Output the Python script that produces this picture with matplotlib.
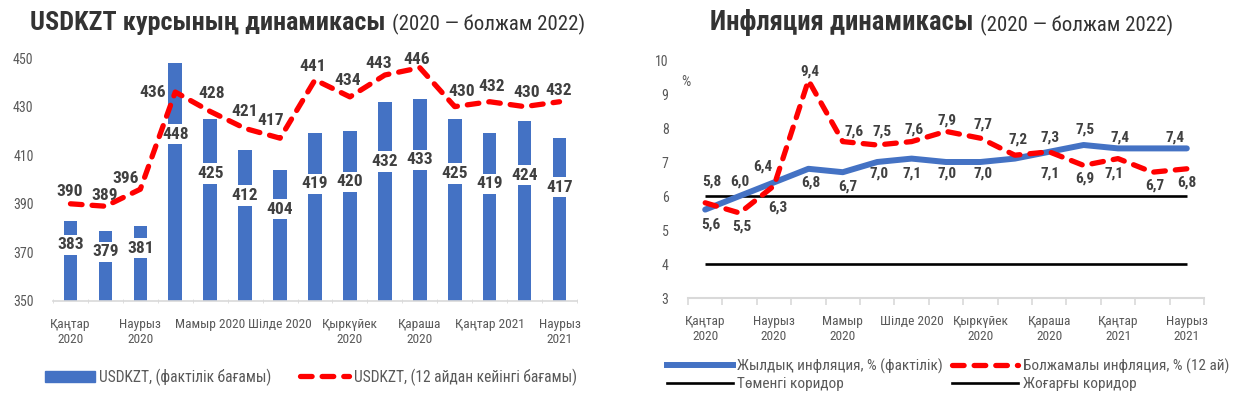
import matplotlib
matplotlib.use('Agg')
import matplotlib.pyplot as plt
from matplotlib import font_manager
from matplotlib.lines import Line2D
from matplotlib.patches import Patch
import numpy as np

# --- data ---
months_l = ['Қаңтар\n2020', '', 'Наурыз\n2020', '', 'Мамыр 2020', '', 'Шілде 2020', '',
            'Қыркүйек\n2020', '', 'Қараша\n2020', '', 'Қаңтар 2021', '', 'Наурыз\n2021']
months_r = ['Қаңтар\n2020', '', 'Наурыз\n2020', '', 'Мамыр\n2020', '', 'Шілде 2020', '',
            'Қыркүйек\n2020', '', 'Қараша\n2020', '', 'Қаңтар\n2021', '', 'Наурыз\n2021']

usd_fact = [383, 379, 381, 448, 425, 412, 404, 419, 420, 432, 433, 425, 419, 424, 417]
usd_fcst = [390, 389, 396, 436, 428, 421, 417, 441, 434, 443, 446, 430, 432, 430, 432]

infl_fact = [5.6, 6.0, 6.4, 6.8, 6.7, 7.0, 7.1, 7.0, 7.0, 7.1, 7.3, 7.5, 7.4, 7.4, 7.4]
infl_fcst = [5.8, 5.5, 6.3, 9.4, 7.6, 7.5, 7.6, 7.9, 7.7, 7.2, 7.3, 6.9, 7.1, 6.7, 6.8]
corridor_low = 4
corridor_high = 6

# --- style ---
BLUE = '#4472C4'
RED = '#FF0000'
DARK = '#404040'
GREY = '#595959'

names = {f.name for f in font_manager.fontManager.ttflist}
FONT = 'DejaVu Sans'
for cand in ['Roboto Condensed', 'Liberation Sans Narrow', 'Open Sans Condensed', 'Noto Sans Condensed']:
    if cand in names:
        FONT = cand
        break
plt.rcParams['font.family'] = [FONT, 'DejaVu Sans']

# label offsets in pixels (dx, dy up), None = no label
fcst_off = [(-1, 12), (-1, 11), (-15, 11), (-23, 0), (1, 18), (0, 17), (-9, 18), (-2, 13),
            (-2, 16), (-6, 12), (-3, 8), (7, 15), (2, 15), (2, 14), (-1, 11)]
red_off = [(7, 21), (2, -14), (4, -22), (1, 9), (11, 10), (5, 13), (2, 12), (1, 11),
           (3, 14), (3, 16), (1, 14), (1, -13), (-4, -15), (2, -13), (0, -14)]
blue_off = [(6, -15), (0, 14), (-11, 16), (2, -14), (5, -14), (2, -12), (0, -15), (1, -12),
            (3, -12), (35, -15), None, (1, 15), (2, 11), None, (-12, 11)]

fig = plt.figure(figsize=(12.41, 3.98), dpi=100)
W, H = 1241, 398


def axes_px(x0, x1, ytop, ybot):
    return fig.add_axes([x0 / W, 1 - ybot / H, (x1 - x0) / W, (ybot - ytop) / H])


def title(xpx, bold, rest, size_b, size_r):
    t = fig.text(xpx / W, 1 - 30 / H, bold, fontsize=size_b, fontweight='bold',
                 color='#333333', va='baseline', ha='left')
    plt.annotate(rest, xy=(1, 0), xycoords=t, xytext=(5, 0), textcoords='offset points',
                 fontsize=size_r, color='#333333', va='bottom', ha='left',
                 annotation_clip=False)
    return t


# ---------- left chart ----------
ax1 = axes_px(53, 577, 58, 301)
x = np.arange(len(usd_fact))
ax1.bar(x, usd_fact, width=0.39, color=BLUE, zorder=2)
for i, v in enumerate(usd_fact):
    ax1.text(i, 350 + 0.7 * (v - 350), str(v), ha='center', va='center', fontsize=12.5,
             fontweight='bold', color=DARK, zorder=3,
             bbox=dict(boxstyle='square,pad=0.15', fc='white', ec='none'))
ax1.plot(x, usd_fcst, color=RED, lw=3.8, ls=(0, (2.2, 1.9)), dash_capstyle='round',
         zorder=4, clip_on=False)
for i, v in enumerate(usd_fcst):
    dx, dy = fcst_off[i]
    ax1.annotate(str(v), (i, v), xytext=(dx, dy), textcoords='offset pixels', ha='center',
                 va='center', fontsize=12.5, fontweight='bold', color=DARK, zorder=5,
                 annotation_clip=False)
ax1.set_xlim(-0.5, len(x) - 0.5)
ax1.set_ylim(350, 450)
ax1.set_yticks(range(350, 451, 20))
ax1.set_xticks(x)
ax1.set_xticklabels(months_l)
ax1.set_xticks(np.arange(-0.5, len(x), 1), minor=True)
ax1.tick_params(axis='x', which='major', length=0, pad=12, labelsize=9.6, colors=GREY)
ax1.tick_params(axis='x', which='minor', length=3, direction='inout', color='#D9D9D9')
ax1.tick_params(axis='y', length=0, pad=14, labelsize=10, colors=GREY)
for s in ['top', 'right', 'left']:
    ax1.spines[s].set_visible(False)
ax1.spines['bottom'].set_color('#D9D9D9')
ax1.spines['bottom'].set_linewidth(1.2)

fig.legend(handles=[Patch(color=BLUE, label='USDKZT, (фактілік бағамы)'),
                    Line2D([], [], color=RED, lw=3.8, ls=(0, (2.2, 1.9)), dash_capstyle='round',
                           label='USDKZT, (12 айдан кейінгі бағамы)')],
           loc='center', bbox_to_anchor=(311 / W, 1 - 377 / H), ncol=2, frameon=False,
           fontsize=11.2, handlelength=3.2, handletextpad=0.3, columnspacing=1.8,
           labelcolor=GREY)

# ---------- right chart ----------
ax2 = axes_px(688, 1204, 60, 298)
ax2.plot(x, infl_fact, color=BLUE, lw=4.3, zorder=3, solid_capstyle='round')
ax2.plot(x, infl_fcst, color=RED, lw=3.8, ls=(0, (2.2, 1.9)), dash_capstyle='round', zorder=4)
ax2.hlines(corridor_low, 0, len(x) - 1, color='black', lw=1.9, zorder=2)
ax2.hlines(corridor_high, 0, len(x) - 1, color='black', lw=1.9, zorder=2)
for vals, offs in [(infl_fcst, red_off), (infl_fact, blue_off)]:
    for i, v in enumerate(vals):
        if offs[i] is None:
            continue
        dx, dy = offs[i]
        ax2.annotate(f'{v:.1f}'.replace('.', ','), (i, v), xytext=(dx, dy),
                     textcoords='offset pixels', ha='center', va='center', fontsize=11,
                     fontweight='bold', color=DARK, zorder=5, annotation_clip=False)
ax2.set_xlim(-0.5, len(x) - 0.5)
ax2.set_ylim(3, 10)
ax2.set_yticks(range(3, 11))
ax2.set_xticks(x)
ax2.set_xticklabels(months_r)
ax2.set_xticks(np.arange(-0.5, len(x), 1), minor=True)
ax2.tick_params(axis='x', which='major', length=0, pad=12, labelsize=9.6, colors=GREY)
ax2.tick_params(axis='x', which='minor', length=5, direction='out', color='#D9D9D9', width=1.2)
ax2.tick_params(axis='y', length=0, pad=14, labelsize=10, colors=GREY)
for s in ['top', 'right', 'left']:
    ax2.spines[s].set_visible(False)
ax2.spines['bottom'].set_color('#D9D9D9')
ax2.spines['bottom'].set_linewidth(1.5)
ax2.annotate('%', xy=(-0.005, 9.36), xycoords=('axes fraction', 'data'), ha='center',
             va='center', fontsize=10.5, color=GREY, annotation_clip=False)

fig.legend(handles=[Line2D([], [], color=BLUE, lw=4.3, label='Жылдық инфляция, % (фактілік)'),
                    Line2D([], [], color='black', lw=1.9, label='Төменгі коридор'),
                    Line2D([], [], color=RED, lw=3.8, ls=(0, (2.2, 1.9)), dash_capstyle='round',
                           label='Болжамалы инфляция, % (12 ай)'),
                    Line2D([], [], color='black', lw=1.9, label='Жоғарғы коридор')],
           loc='center', bbox_to_anchor=(948 / W, 1 - 375 / H), ncol=2, frameon=False,
           fontsize=11, handlelength=4.3, handletextpad=0.3, columnspacing=0.6,
           labelspacing=0.2, labelcolor=GREY)

# ---------- titles ----------
title(30, 'USDKZT курсының динамикасы', '(2020 — болжам 2022)', 18.8, 15)
title(710, 'Инфляция динамикасы', '(2020 — болжам 2022)', 19.2, 15)

fig.savefig('out.png', dpi=100)
